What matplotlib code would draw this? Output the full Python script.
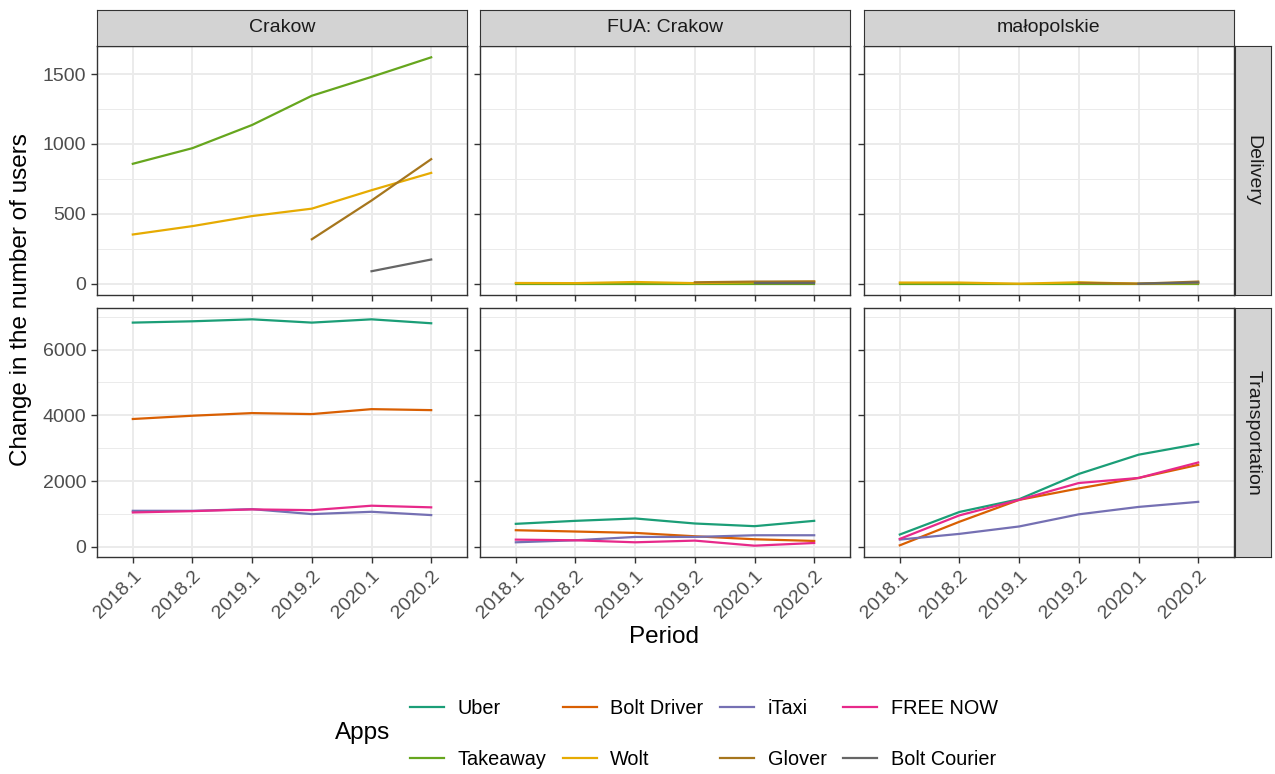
import numpy as np
import matplotlib
matplotlib.use("Agg")
import matplotlib.pyplot as plt
from matplotlib.lines import Line2D

plt.rcParams["font.family"] = ["Liberation Sans", "DejaVu Sans"]

periods = ["2018.1", "2018.2", "2019.1", "2019.2", "2020.1", "2020.2"]
regions = ["Crakow", "FUA: Crakow", "małopolskie"]
sectors = ["Delivery", "Transportation"]
apps = ["Uber", "Bolt Driver", "iTaxi", "FREE NOW", "Takeaway", "Wolt", "Glover", "Bolt Courier"]
colors = ["#1B9E77", "#D95F02", "#7570B3", "#E7298A", "#66A61E", "#E6AB02", "#A6761D", "#666666"]
nan = np.nan

# delivery apps, per region
takeaway = {"Crakow": [858, 970, 1136, 1345, 1480, 1620],
            "FUA: Crakow": [0, 0, 0, 0, 0, 0],
            "małopolskie": [0, 0, 0, 0, 0, 0]}
wolt = {"Crakow": [352, 412, 484, 537, 669, 793],
        "FUA: Crakow": [5, 4, 12, 4, 10, 14],
        "małopolskie": [8, 8, 0, 10, 0, 5]}
glover = {"Crakow": [nan, nan, nan, 318, 595, 891],
          "FUA: Crakow": [nan, nan, nan, 10, 15, 16],
          "małopolskie": [nan, nan, nan, 6, 0, 15]}
bolt_courier = {"Crakow": [nan, nan, nan, nan, 89, 173],
                "FUA: Crakow": [nan, nan, nan, nan, 3, 3],
                "małopolskie": [nan, nan, nan, nan, 0, 8]}

# transportation apps, per region
uber = {"Crakow": [6820, 6860, 6920, 6820, 6920, 6800],
        "FUA: Crakow": [704, 795, 867, 714, 633, 795],
        "małopolskie": [379, 1065, 1453, 2221, 2805, 3132]}
bolt_driver = {"Crakow": [3890, 3990, 4070, 4040, 4190, 4160],
               "FUA: Crakow": [510, 470, 428, 326, 235, 184],
               "małopolskie": [51, 768, 1433, 1781, 2098, 2497]}
itaxi = {"Crakow": [1100, 1100, 1150, 1000, 1070, 970],
         "FUA: Crakow": [143, 204, 306, 306, 357, 357],
         "małopolskie": [225, 399, 624, 993, 1218, 1372]}
free_now = {"Crakow": [1050, 1090, 1143, 1120, 1255, 1205],
            "FUA: Crakow": [224, 204, 143, 194, 40, 122],
            "małopolskie": [246, 962, 1433, 1945, 2098, 2569]}

series = {
    "Delivery": {"Takeaway": takeaway, "Wolt": wolt, "Glover": glover, "Bolt Courier": bolt_courier},
    "Transportation": {"Uber": uber, "Bolt Driver": bolt_driver, "iTaxi": itaxi, "FREE NOW": free_now},
}
yticks = {"Delivery": [0, 500, 1000, 1500], "Transportation": [0, 2000, 4000, 6000]}

W, H = 1275, 774
fig = plt.figure(figsize=(W / 100, H / 100), dpi=100)

col_x = [97, 480, 864]
pw = 370
row_y = [46, 308]
ph = 249
edge = "#333333"
strip_fill = "#D3D3D3"


def box(x, y, w, h):
    return [x / W, 1 - (y + h) / H, w / W, h / H]


x = np.arange(1, len(periods) + 1)
for r, sector in enumerate(sectors):
    # y limits shared across the row, with 5% padding like ggplot
    vals = np.concatenate([np.array(v[reg], float) for v in series[sector].values() for reg in regions])
    lo, hi = np.nanmin(vals), np.nanmax(vals)
    pad = 0.05 * (hi - lo)
    step = yticks[sector][1] - yticks[sector][0]
    minor = [t - step / 2 for t in yticks[sector]] + [yticks[sector][-1] + step / 2]
    for c, region in enumerate(regions):
        ax = fig.add_axes(box(col_x[c], row_y[r], pw, ph))
        ax.set_xlim(0.4, len(periods) + 0.6)
        ax.set_ylim(lo - pad, hi + pad)
        ax.set_xticks(x)
        ax.set_yticks(yticks[sector])
        ax.set_yticks([m for m in minor if lo - pad < m < hi + pad], minor=True)
        ax.set_xticks([], minor=True)
        ax.grid(True, which="major", color="#EBEBEB", lw=1.4)
        ax.grid(True, which="minor", axis="y", color="#EBEBEB", lw=0.7)
        ax.set_axisbelow(True)
        for s in ax.spines.values():
            s.set_color(edge)
            s.set_linewidth(1.0)
        ax.tick_params(which="major", length=4.4, width=1.0, color=edge, labelsize=14, labelcolor="#4D4D4D")
        ax.tick_params(which="minor", length=0)
        if r == 1:
            ax.set_xticklabels(periods, rotation=45, ha="right", rotation_mode="anchor")
        else:
            ax.set_xticklabels([])
        if c != 0:
            ax.set_yticklabels([])
        for app, col in zip(apps, colors):
            if app in series[sector]:
                ax.plot(x, series[sector][app][region], color=col, lw=1.6)

        if r == 0:
            sa = fig.add_axes(box(col_x[c], 10, pw, 36))
            sa.set_facecolor(strip_fill)
            sa.set_xticks([]); sa.set_yticks([])
            for s in sa.spines.values():
                s.set_color(edge)
            sa.text(0.5, 0.5, region, ha="center", va="center", fontsize=14, color="#1A1A1A", transform=sa.transAxes)
    sa = fig.add_axes(box(1235, row_y[r], 36, ph))
    sa.set_facecolor(strip_fill)
    sa.set_xticks([]); sa.set_yticks([])
    for s in sa.spines.values():
        s.set_color(edge)
    sa.text(0.5, 0.5, sector, ha="center", va="center", rotation=270, fontsize=14, color="#1A1A1A", transform=sa.transAxes)

fig.text(21 / W, 1 - 300 / H, "Change in the number of users", rotation=90, ha="center", va="center", fontsize=17.5)
fig.text(664 / W, 1 - 637 / H, "Period", ha="center", va="center", fontsize=17.5)

# legend: two rows, four columns (matplotlib fills column-wise)
order = [0, 4, 1, 5, 2, 6, 3, 7]
handles = [Line2D([], [], color=colors[i], lw=1.6) for i in order]
labels = [apps[i] for i in order]
fig.legend(handles, labels, ncol=4, loc="center left", bbox_to_anchor=(410 / W, 1 - 734 / H),
           frameon=False, fontsize=14.3, handlelength=1.7, handletextpad=0.68,
           columnspacing=0.85, labelspacing=1.6, borderpad=0, borderaxespad=0)
fig.text(335 / W, 1 - 733 / H, "Apps", ha="left", va="center", fontsize=17.5)

fig.savefig("out.png", dpi=100)
